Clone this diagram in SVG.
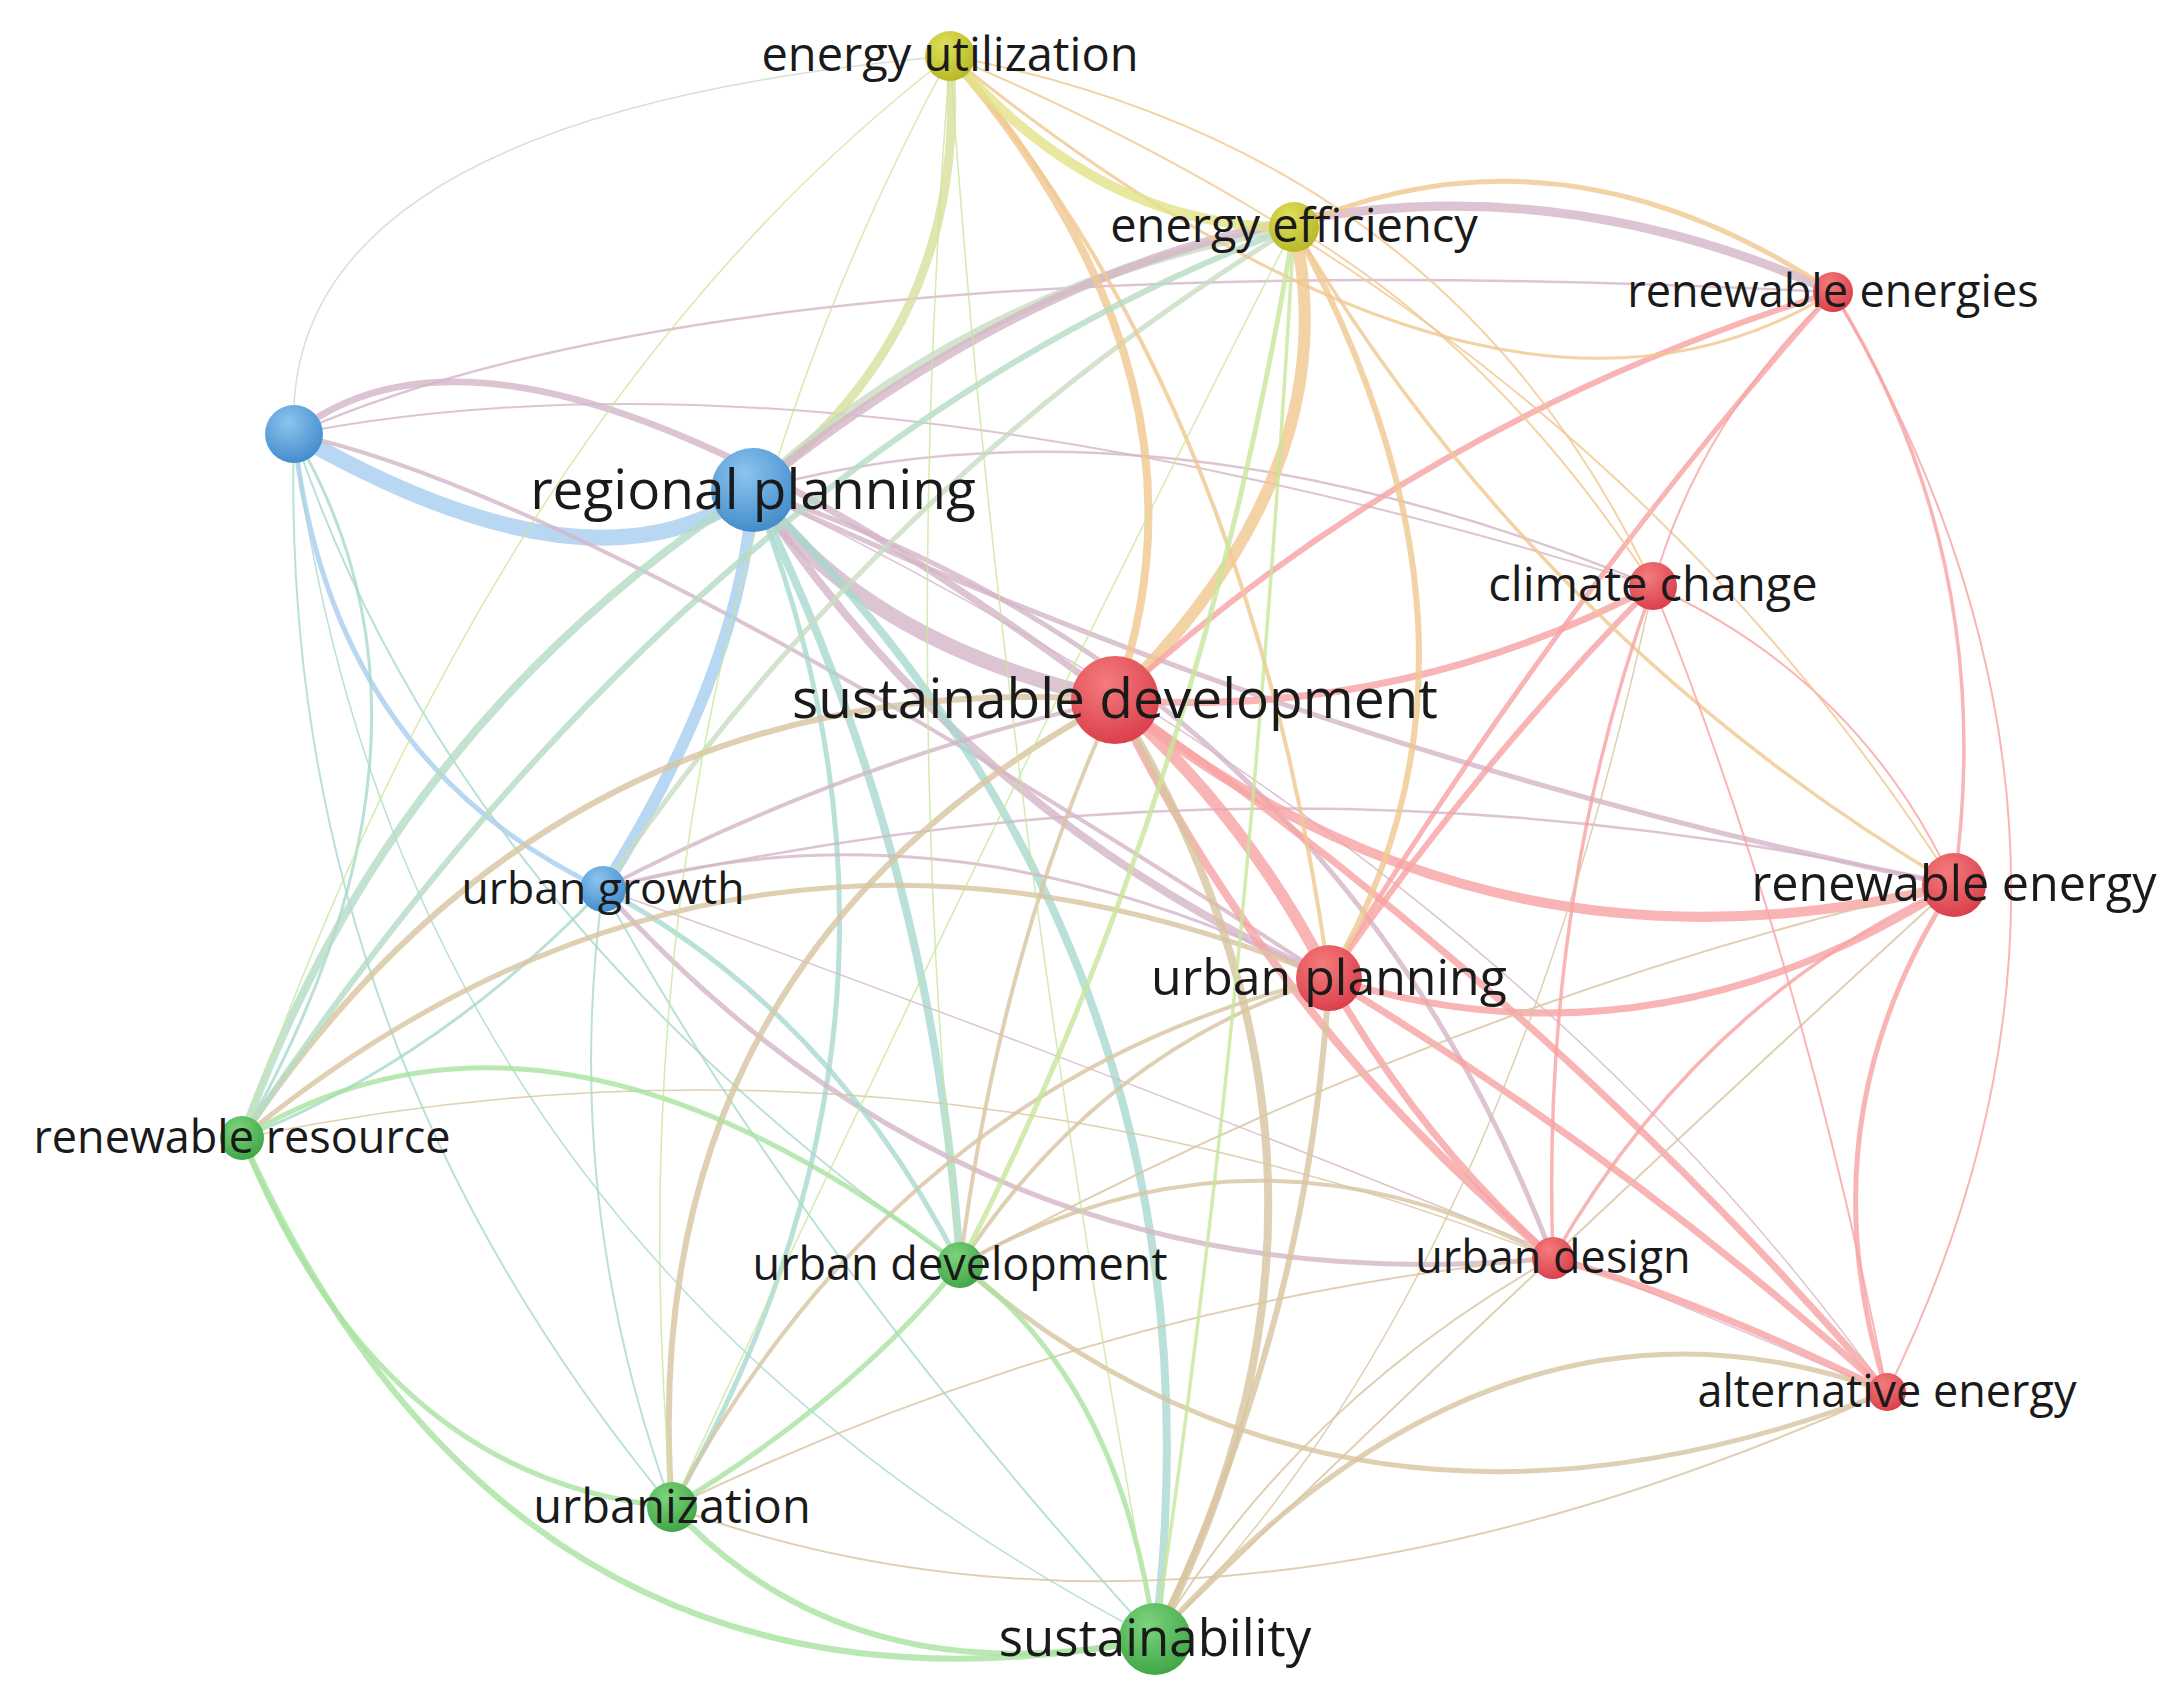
<svg xmlns="http://www.w3.org/2000/svg" width="2182" height="1706" viewBox="0 0 2182 1706">
<defs>
<radialGradient id="gr" cx="0.4" cy="0.3" r="0.8"><stop offset="0" stop-color="#f47c7c"/><stop offset="1" stop-color="#d73846"/></radialGradient>
<radialGradient id="gb" cx="0.4" cy="0.3" r="0.8"><stop offset="0" stop-color="#8cc4f0"/><stop offset="1" stop-color="#3a86c6"/></radialGradient>
<radialGradient id="gg" cx="0.4" cy="0.3" r="0.8"><stop offset="0" stop-color="#7cd47c"/><stop offset="1" stop-color="#3aa040"/></radialGradient>
<radialGradient id="gy" cx="0.4" cy="0.3" r="0.8"><stop offset="0" stop-color="#e0e05a"/><stop offset="1" stop-color="#b2b222"/></radialGradient>
</defs>
<style>
#edges path{fill:none;stroke-opacity:0.8;stroke-linecap:round}
.r{stroke:#f7a2a2}.b{stroke:#a6cdef}.g{stroke:#a8e2a0}.y{stroke:#e2e288}
.rb{stroke:#d5b5c8}.rg{stroke:#d8c4a0}.ry{stroke:#f0c890}.bg{stroke:#a8d8d0}.by{stroke:#c8dcc0}.gy{stroke:#c8e69a}.yb{stroke:#d8e09c}.gt{stroke:#b4dcc4}
.lab{font-family:"Open Sans","Noto Sans","DejaVu Sans",sans-serif;fill:#1a1a1a;text-anchor:middle}
</style>
<rect width="2182" height="1706" fill="#ffffff"/>
<g id="edges">
<path class="b" stroke-width="16" d="M294,434 Q596,608 753,490"/>
<path class="rb" stroke-width="7" d="M294,434 Q519,253 1115,700"/>
<path class="rb" stroke-width="4" d="M294,434 Q600,500 1329,978"/>
<path class="rb" stroke-width="2.5" d="M294,434 Q736,237 1833,292"/>
<path class="rb" stroke-width="2" d="M294,434 Q826,330 1653,586"/>
<path class="by" stroke-width="1.5" d="M294,434 Q278,115 950,56"/>
<path class="b" stroke-width="5" d="M294,434 Q330,760 603,889"/>
<path class="bg" stroke-width="3" d="M294,434 Q472,734 242,1138"/>
<path class="bg" stroke-width="2" d="M294,434 Q453,910 960,1265"/>
<path class="bg" stroke-width="2" d="M294,434 Q277,1030 672,1507"/>
<path class="bg" stroke-width="1.5" d="M294,434 Q395,1243 1155,1639"/>
<path class="yb" stroke-width="9" d="M753,490 Q970,330 950,56"/>
<path class="by" stroke-width="9" d="M753,490 Q980,281 1294,227"/>
<path class="rb" stroke-width="15" d="M753,490 Q866,645 1115,700"/>
<path class="b" stroke-width="12" d="M753,490 Q742,670 603,889"/>
<path class="rb" stroke-width="8" d="M753,490 Q970,818 1329,978"/>
<path class="bg" stroke-width="8" d="M753,490 Q934,857 960,1265"/>
<path class="bg" stroke-width="8" d="M753,490 Q1237,965 1155,1639"/>
<path class="gt" stroke-width="8" d="M753,490 Q388,727 242,1138"/>
<path class="bg" stroke-width="5" d="M753,490 Q960,1010 672,1507"/>
<path class="rb" stroke-width="5" d="M753,490 Q1336,684 1553,1258"/>
<path class="rb" stroke-width="5" d="M753,490 Q1330,760 1954,885"/>
<path class="rb" stroke-width="2.5" d="M753,490 Q1150,380 1653,586"/>
<path class="rb" stroke-width="9" d="M753,490 Q1300,50 1833,292"/>
<path class="rb" stroke-width="1.5" d="M753,490 Q1500,850 1887,1392"/>
<path class="by" stroke-width="5" d="M603,889 Q880,480 1294,227"/>
<path class="rb" stroke-width="3" d="M603,889 Q950,790 1329,978"/>
<path class="rb" stroke-width="5" d="M603,889 Q985,1314 1553,1258"/>
<path class="rb" stroke-width="2.5" d="M603,889 Q1278,730 1954,885"/>
<path class="bg" stroke-width="5" d="M603,889 Q830,1010 960,1265"/>
<path class="bg" stroke-width="2" d="M603,889 Q560,1200 672,1507"/>
<path class="bg" stroke-width="2" d="M603,889 Q800,1250 1155,1639"/>
<path class="bg" stroke-width="3" d="M603,889 Q440,1060 242,1138"/>
<path class="rb" stroke-width="1.5" d="M603,889 Q1200,1100 1887,1392"/>
<path class="ry" stroke-width="12" d="M1115,700 Q1350,470 1294,227"/>
<path class="ry" stroke-width="8" d="M1115,700 Q1230,380 950,56"/>
<path class="r" stroke-width="7" d="M1115,700 Q1400,720 1653,586"/>
<path class="r" stroke-width="6" d="M1115,700 Q1420,420 1833,292"/>
<path class="r" stroke-width="10" d="M1115,700 Q1489,1000 1954,885"/>
<path class="r" stroke-width="12" d="M1115,700 Q1250,820 1329,978"/>
<path class="r" stroke-width="8" d="M1115,700 Q1270,1020 1553,1258"/>
<path class="r" stroke-width="7" d="M1115,700 Q1550,1000 1887,1392"/>
<path class="rg" stroke-width="6" d="M1115,700 Q560,660 242,1138"/>
<path class="rb" stroke-width="4" d="M1115,700 Q850,760 603,889"/>
<path class="rg" stroke-width="4" d="M1115,700 Q1000,950 960,1265"/>
<path class="rg" stroke-width="6" d="M1115,700 Q631,959 672,1507"/>
<path class="rg" stroke-width="8" d="M1115,700 Q1400,1170 1155,1639"/>
<path class="r" stroke-width="6" d="M1329,978 Q1480,760 1653,586"/>
<path class="r" stroke-width="5" d="M1329,978 Q1560,600 1833,292"/>
<path class="r" stroke-width="7" d="M1329,978 Q1650,1080 1954,885"/>
<path class="r" stroke-width="7" d="M1329,978 Q1420,1140 1553,1258"/>
<path class="r" stroke-width="7" d="M1329,978 Q1630,1160 1887,1392"/>
<path class="rg" stroke-width="5" d="M1329,978 Q737,732 242,1138"/>
<path class="rg" stroke-width="4" d="M1329,978 Q1100,1050 960,1265"/>
<path class="rg" stroke-width="4" d="M1329,978 Q900,1080 672,1507"/>
<path class="rg" stroke-width="6" d="M1329,978 Q1310,1320 1155,1639"/>
<path class="ry" stroke-width="6" d="M1329,978 Q1525,650 1294,227"/>
<path class="ry" stroke-width="4" d="M1329,978 Q1250,400 950,56"/>
<path class="r" stroke-width="3.5" d="M1954,885 Q2000,560 1833,292"/>
<path class="r" stroke-width="2" d="M1833,292 Q2160,840 1887,1392"/>
<path class="r" stroke-width="2" d="M1954,885 Q1860,680 1653,586"/>
<path class="r" stroke-width="3.5" d="M1954,885 Q1700,1000 1553,1258"/>
<path class="r" stroke-width="5" d="M1954,885 Q1800,1120 1887,1392"/>
<path class="rg" stroke-width="2" d="M1954,885 Q1450,1000 960,1265"/>
<path class="ry" stroke-width="3.5" d="M1954,885 Q1540,640 1294,227"/>
<path class="ry" stroke-width="2" d="M1954,885 Q1600,330 950,56"/>
<path class="rg" stroke-width="2" d="M1954,885 Q1500,1300 1155,1639"/>
<path class="r" stroke-width="2" d="M1653,586 Q1700,420 1833,292"/>
<path class="r" stroke-width="3.5" d="M1653,586 Q1540,900 1553,1258"/>
<path class="r" stroke-width="2" d="M1653,586 Q1800,950 1887,1392"/>
<path class="ry" stroke-width="2" d="M1653,586 Q1500,350 1294,227"/>
<path class="ry" stroke-width="2" d="M1653,586 Q1450,150 950,56"/>
<path class="rg" stroke-width="1.5" d="M1653,586 Q1500,1300 1155,1639"/>
<path class="ry" stroke-width="5" d="M1294,227 Q1560,110 1833,292"/>
<path class="ry" stroke-width="3" d="M950,56 Q1500,500 1833,292"/>
<path class="y" stroke-width="10" d="M950,56 Q1100,230 1294,227"/>
<path class="r" stroke-width="7" d="M1553,1258 Q1700,1300 1887,1392"/>
<path class="rg" stroke-width="4" d="M1553,1258 Q1250,1100 960,1265"/>
<path class="rg" stroke-width="1.5" d="M1553,1258 Q900,1000 242,1138"/>
<path class="rg" stroke-width="2" d="M1553,1258 Q1100,1300 672,1507"/>
<path class="rg" stroke-width="2" d="M1553,1258 Q1300,1400 1155,1639"/>
<path class="rg" stroke-width="5" d="M1887,1392 Q1350,1600 960,1265"/>
<path class="rg" stroke-width="5" d="M1887,1392 Q1500,1250 1155,1639"/>
<path class="rg" stroke-width="2" d="M1887,1392 Q1200,1700 672,1507"/>
<path class="g" stroke-width="5" d="M242,1138 Q550,950 960,1265"/>
<path class="g" stroke-width="5" d="M242,1138 Q380,1480 672,1507"/>
<path class="g" stroke-width="6" d="M242,1138 Q520,1760 1155,1639"/>
<path class="gt" stroke-width="6" d="M242,1138 Q700,450 1294,227"/>
<path class="gy" stroke-width="1.5" d="M242,1138 Q500,400 950,56"/>
<path class="g" stroke-width="5" d="M960,1265 Q850,1400 672,1507"/>
<path class="g" stroke-width="5" d="M960,1265 Q1120,1380 1155,1639"/>
<path class="gy" stroke-width="5" d="M960,1265 Q1200,800 1294,227"/>
<path class="gy" stroke-width="1.5" d="M960,1265 Q900,700 950,56"/>
<path class="g" stroke-width="6" d="M672,1507 Q850,1700 1155,1639"/>
<path class="gy" stroke-width="1.5" d="M672,1507 Q1000,800 1294,227"/>
<path class="gy" stroke-width="1.5" d="M672,1507 Q600,700 950,56"/>
<path class="gy" stroke-width="3.5" d="M1155,1639 Q1250,1000 1294,227"/>
<path class="gy" stroke-width="1.5" d="M1155,1639 Q1000,800 950,56"/>
</g>
<g id="node-b"><circle cx="294" cy="434" r="29" fill="url(#gb)"/></g>
<g id="node-rp"><circle cx="753" cy="490" r="42" fill="url(#gb)"/><text class="lab" x="753" y="509" font-size="55">regional planning</text></g>
<g id="node-ug"><circle cx="603" cy="889" r="23" fill="url(#gb)"/><text class="lab" x="603" y="904" font-size="44.5">urban growth</text></g>
<g id="node-eu"><circle cx="950" cy="56" r="25" fill="url(#gy)"/><text class="lab" x="950" y="71" font-size="47">energy utilization</text></g>
<g id="node-ee"><circle cx="1294" cy="227" r="25" fill="url(#gy)"/><text class="lab" x="1294" y="242" font-size="47">energy efficiency</text></g>
<g id="node-res"><circle cx="1833" cy="292" r="20" fill="url(#gr)"/><text class="lab" x="1833" y="307" font-size="45">renewable energies</text></g>
<g id="node-cc"><circle cx="1653" cy="586" r="24" fill="url(#gr)"/><text class="lab" x="1653" y="601" font-size="47">climate change</text></g>
<g id="node-sd"><circle cx="1115" cy="700" r="44" fill="url(#gr)"/><text class="lab" x="1115" y="718" font-size="55">sustainable development</text></g>
<g id="node-re"><circle cx="1954" cy="885" r="32" fill="url(#gr)"/><text class="lab" x="1954" y="901" font-size="48.5">renewable energy</text></g>
<g id="node-up"><circle cx="1329" cy="978" r="33" fill="url(#gr)"/><text class="lab" x="1329" y="995" font-size="50">urban planning</text></g>
<g id="node-uds"><circle cx="1553" cy="1258" r="21" fill="url(#gr)"/><text class="lab" x="1553" y="1273" font-size="45">urban design</text></g>
<g id="node-ae"><circle cx="1887" cy="1392" r="19" fill="url(#gr)"/><text class="lab" x="1887" y="1407" font-size="45">alternative energy</text></g>
<g id="node-rr"><circle cx="242" cy="1138" r="22" fill="url(#gg)"/><text class="lab" x="242" y="1153" font-size="45">renewable resource</text></g>
<g id="node-ud"><circle cx="960" cy="1265" r="23" fill="url(#gg)"/><text class="lab" x="960" y="1280" font-size="45">urban development</text></g>
<g id="node-uz"><circle cx="672" cy="1507" r="25" fill="url(#gg)"/><text class="lab" x="672" y="1523" font-size="47">urbanization</text></g>
<g id="node-s"><circle cx="1155" cy="1639" r="36" fill="url(#gg)"/><text class="lab" x="1155" y="1656" font-size="51">sustainability</text></g>
</svg>
